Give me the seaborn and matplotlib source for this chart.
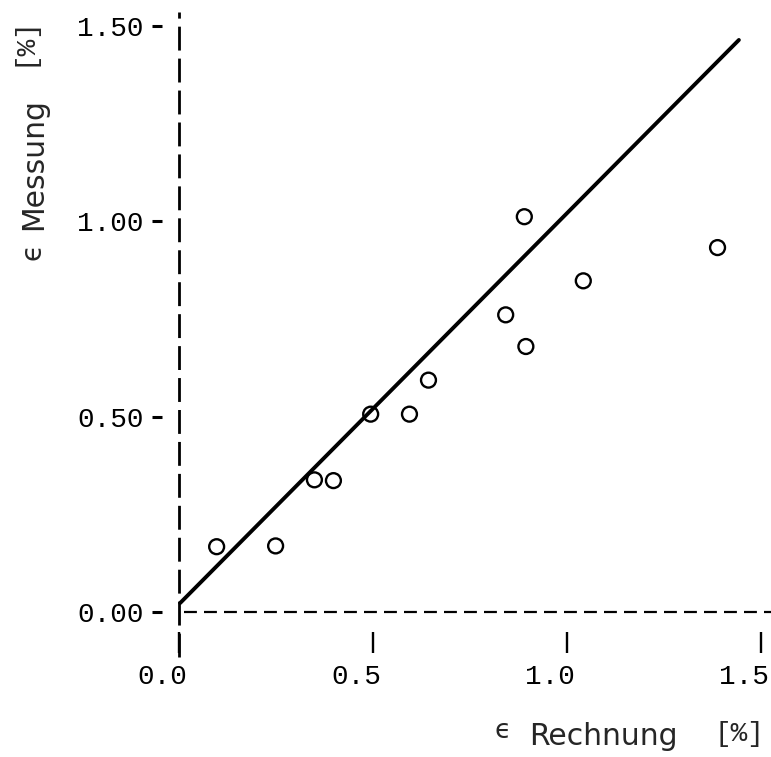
import matplotlib
matplotlib.use("Agg")
import matplotlib.pyplot as plt
import matplotlib.transforms as mtransforms
import seaborn as sns
import pandas as pd

# Measured vs. calculated strain (percent)
eps_rechnung = [0.097, 0.249, 0.349, 0.398, 0.494, 0.594, 0.643, 0.842, 0.890, 0.894, 1.042, 1.388]
eps_messung = [0.167, 0.169, 0.338, 0.336, 0.506, 0.506, 0.593, 0.760, 1.011, 0.679, 0.847, 0.932]

# Fitted line  y = a + b * x
fit_intercept = 0.02
fit_slope = 1.0
fit_range = [0.003, 1.443]

x_ticks = [0.0, 0.5, 1.0, 1.5]
x_ticklabels = ["0.0", "0.5", "1.0", "1.5"]
y_ticks = [0.0, 0.5, 1.0, 1.5]
y_ticklabels = ["0.00", "0.50", "1.00", "1.50"]

points = pd.DataFrame({"rechnung": eps_rechnung, "messung": eps_messung})
fit = pd.DataFrame({"rechnung": fit_range,
                    "messung": [fit_intercept + fit_slope * v for v in fit_range]})

sns.set_style("white")
plt.rcParams["font.family"] = ["DejaVu Sans"]

W, H = 771, 757
fig = plt.figure(figsize=(W / 100, H / 100), dpi=100)

xlim = (-0.1, 1.52)
ylim = (-0.13, 1.56)
px_x, px_y = 388.0, 391.0
left_px = 179 - (0 - xlim[0]) * px_x
bottom_px = 612 + (0 - ylim[0]) * px_y
ax = fig.add_axes([left_px / W, (H - bottom_px) / H,
                   (xlim[1] - xlim[0]) * px_x / W, (ylim[1] - ylim[0]) * px_y / H])
ax.set_xlim(*xlim)
ax.set_ylim(*ylim)

# dashed zero lines acting as axes
ax.vlines(0.0, -0.115, 1.535, colors="black", linewidth=2.0,
          linestyles=(0, (8.6, 2.9)), zorder=1)
ax.hlines(0.0, 0.012, 1.55, colors="black", linewidth=1.6,
          linestyles=(0, (5.8, 3.2)), zorder=1, clip_on=False)

sns.lineplot(data=fit, x="rechnung", y="messung", ax=ax, color="black",
             linewidth=2.8, zorder=3)
sns.scatterplot(data=points, x="rechnung", y="messung", ax=ax, s=115,
                facecolor="none", edgecolor="black", linewidth=1.7, zorder=4)

for sp in ax.spines.values():
    sp.set_visible(False)
ax.spines["left"].set_position(("data", -0.044))
ax.spines["bottom"].set_position(("data", -0.051))

mono = "Liberation Mono"
ax.set_xticks(x_ticks)
ax.set_xticklabels(x_ticklabels, fontfamily=mono, fontsize=20)
ax.set_yticks(y_ticks)
ax.set_yticklabels(y_ticklabels, fontfamily=mono, fontsize=20)
ax.tick_params(axis="x", direction="out", length=15, width=1.7, pad=8,
               bottom=True, colors="black")
ax.tick_params(axis="y", direction="out", length=7, width=2.2, pad=6,
               left=True, colors="black")
ax.set_xlabel("")
ax.set_ylabel("")

# x tick labels sit with their last digit under the tick bar
shift = mtransforms.ScaledTranslation(-0.17, 0, fig.dpi_scale_trans)
for lab in ax.get_xticklabels():
    lab.set_transform(lab.get_transform() + shift)


def fx(px):
    return px / W


def fy(py):
    return (H - py) / H


# x axis title
fig.text(fx(503), fy(738), "\u03f5", fontsize=19, ha="center", va="baseline")
fig.text(fx(603), fy(745), "Rechnung", fontsize=21.5, ha="center", va="baseline")
fig.text(fx(739), fy(741), "[%]", fontfamily=mono, fontsize=20, ha="center",
         va="baseline")

# y axis title
fig.text(fx(42), fy(164), "Messung", fontsize=21.5, rotation=90,
         rotation_mode="anchor", ha="center", va="baseline")
fig.text(fx(31), fy(41), "[%]", fontfamily=mono, fontsize=20, rotation=90,
         rotation_mode="anchor", ha="center", va="baseline")
fig.text(fx(40), fy(251), "\u03f5", fontsize=20, rotation=90,
         rotation_mode="anchor", ha="center", va="baseline")

fig.savefig("out.png", dpi=100, facecolor="white")
